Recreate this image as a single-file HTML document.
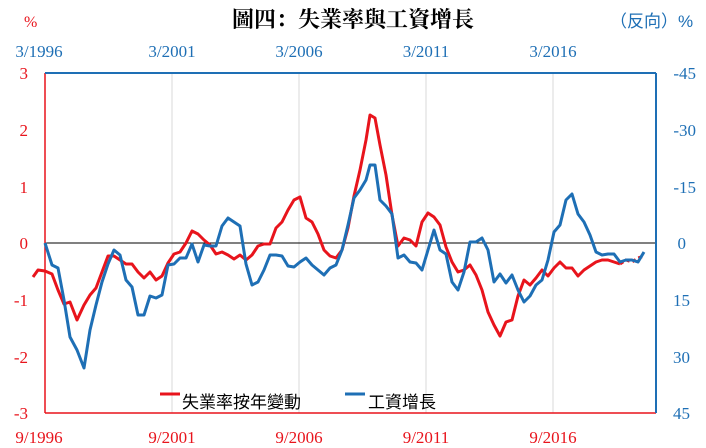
<!DOCTYPE html>
<html><head><meta charset="utf-8"><style>
body{margin:0;background:#fff;}
svg{display:block;}
</style></head><body>
<svg width="706" height="448" xmlns="http://www.w3.org/2000/svg">
<rect width="706" height="448" fill="#fff"/>
<text x="353" y="27" text-anchor="middle" font-family="'Liberation Serif','Noto Serif CJK SC',serif" font-weight="bold" font-size="22" fill="#000">圖四：失業率與工資增長</text>
<text x="24" y="27" font-family="'Liberation Serif',serif" font-size="16" fill="#e8141c">%</text>
<text x="610" y="27" font-family="'Liberation Sans','Noto Sans CJK TC',sans-serif" font-size="17" fill="#1e6fb5">（反向）%</text>
<g font-family="'Liberation Serif',serif" font-size="17" fill="#1e6fb5" text-anchor="middle">
<text x="39" y="57">3/1996</text><text x="172" y="57">3/2001</text><text x="299" y="57">3/2006</text><text x="426" y="57">3/2011</text><text x="553" y="57">3/2016</text>
</g>
<g font-family="'Liberation Serif',serif" font-size="17" fill="#e8141c" text-anchor="middle">
<text x="39" y="443">9/1996</text><text x="172" y="443">9/2001</text><text x="299" y="443">9/2006</text><text x="426" y="443">9/2011</text><text x="553" y="443">9/2016</text>
</g>
<g stroke="#d9d9d9" stroke-width="1">
<line x1="172" y1="73" x2="172" y2="413"/><line x1="299" y1="73" x2="299" y2="413"/><line x1="426" y1="73" x2="426" y2="413"/><line x1="553" y1="73" x2="553" y2="413"/>
</g>
<line x1="45" y1="243" x2="656" y2="243" stroke="#000" stroke-width="1"/>
<line x1="45" y1="73" x2="45" y2="413" stroke="#e8141c" stroke-width="1.5"/>
<line x1="45" y1="413" x2="656" y2="413" stroke="#e8141c" stroke-width="1.5"/>
<line x1="45" y1="73" x2="656" y2="73" stroke="#1e6fb5" stroke-width="2"/>
<line x1="656" y1="73" x2="656" y2="413" stroke="#1e6fb5" stroke-width="2"/>
<g font-family="'Liberation Serif',serif" font-size="17" fill="#e8141c" text-anchor="end">
<text x="28" y="79">3</text><text x="28" y="136">2</text><text x="28" y="193">1</text><text x="28" y="249">0</text><text x="28" y="306">-1</text><text x="28" y="363">-2</text><text x="28" y="419">-3</text>
</g>
<g font-family="'Liberation Serif',serif" font-size="17" fill="#1e6fb5" text-anchor="end">
<text x="696" y="79">-45</text><text x="696" y="136">-30</text><text x="696" y="193">-15</text><text x="686" y="249">0</text><text x="690" y="306">15</text><text x="690" y="363">30</text><text x="690" y="419">45</text>
</g>
<polyline fill="none" stroke="#e8141c" stroke-width="3" stroke-linejoin="round" points="33,277 38,270 45,271 52,274 58,290 64,304 70,302 77,320 84,305 90,295 96,288 102,272 108,256 114,256 120,260 126,264 132,264 138,272 144,278 150,272 156,280 162,276 168,263 174,254 180,252 186,243 192,231 198,234 204,240 210,245 216,254 222,252 228,255 234,259 240,255 246,260 252,255 258,246 264,244 270,244 276,228 282,222 288,210 294,200 300,197 306,218 312,222 318,234 324,250 330,256 336,258 342,250 348,228 354,196 360,170 366,140 370,115 375,118 380,145 386,175 392,215 398,246 404,238 410,240 416,246 422,222 428,213 434,217 440,225 446,247 452,262 458,272 464,270 470,265 476,275 482,290 488,312 494,325 500,336 506,322 512,320 518,296 524,280 530,285 536,278 542,270 548,276 554,268 560,262 566,268 572,268 578,276 584,270 590,266 596,262 602,260 608,260 614,262 620,264"/>
<polyline fill="none" stroke="#e8141c" stroke-width="3" stroke-dasharray="4,3" points="620,264 626,260 632,262 638,258 644,256"/>
<polyline fill="none" stroke="#1e6fb5" stroke-width="3" stroke-linejoin="round" points="45,243 52,265 58,268 64,300 70,337 77,350 84,368 90,330 96,305 102,282 108,264 114,250 120,255 126,280 132,287 138,315 144,315 150,296 156,298 162,295 168,265 174,264 180,258 186,258 192,244 198,262 204,245 210,246 216,246 222,226 228,218 234,222 240,226 246,264 252,285 258,282 264,270 270,255 276,255 282,256 288,266 294,267 300,262 306,258 312,265 318,270 324,275 330,268 336,265 342,250 348,225 354,198 360,190 366,180 370,165 375,165 380,200 386,206 392,214 398,258 404,255 410,262 416,263 422,270 428,250 434,230 440,250 446,254 452,282 458,290 464,272 470,242 476,242 482,238 488,250 494,282 500,274 506,283 512,275 518,290 524,302 530,296 536,285 542,280 548,260 554,232 560,225 566,200 572,194 578,214 584,222 590,235 596,252 602,255 608,254 614,254 620,262 626,260 632,260 638,262 644,252"/>
<line x1="160" y1="394" x2="180" y2="394" stroke="#e8141c" stroke-width="3"/>
<text x="182" y="408" font-family="'Liberation Sans','Noto Sans CJK TC',sans-serif" font-size="17" fill="#000">失業率按年變動</text>
<line x1="345" y1="394" x2="365" y2="394" stroke="#1e6fb5" stroke-width="3"/>
<text x="368" y="408" font-family="'Liberation Sans','Noto Sans CJK TC',sans-serif" font-size="17" fill="#000">工資增長</text>
</svg>
</body></html>
